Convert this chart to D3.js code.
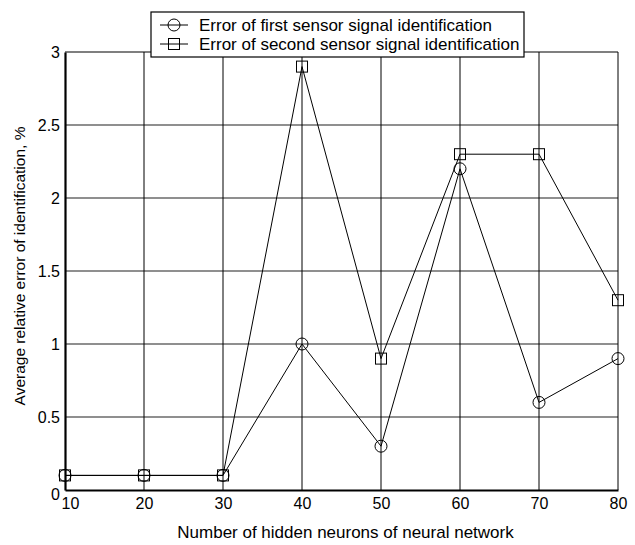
<!DOCTYPE html>
<html>
<head>
<meta charset="utf-8">
<script src="https://cdn.jsdelivr.net/npm/d3@7"></script>
<style>
  body { margin: 0; background: #fff; }
  svg { display: block; font-family: "Liberation Sans", Arial, sans-serif; }
</style>
</head>
<body>
<svg id="chart" width="635" height="545"></svg>
<script>
// data
const neurons = [10, 20, 30, 40, 50, 60, 70, 80];
const firstSensor = [0.1, 0.1, 0.1, 1.0, 0.3, 2.2, 0.6, 0.9];
const secondSensor = [0.1, 0.1, 0.1, 2.9, 0.9, 2.3, 2.3, 1.3];
const yTicks = [0, 0.5, 1, 1.5, 2, 2.5, 3];
const seriesNames = [
    "Error of first sensor signal identification",
    "Error of second sensor signal identification"
];

const svg = d3.select("#chart");
const margin = { left: 65, right: 17, top: 52, bottom: 55 };
const width = 635, height = 545;

const x = d3.scaleLinear().domain([10, 80]).range([margin.left, width - margin.right]);
const y = d3.scaleLinear().domain([0, 3]).range([height - margin.bottom, margin.top]);

const plot = svg.append("g");

// horizontal grid (grey)
plot.selectAll("line.hgrid")
    .data(yTicks.filter(d => d > 0 && d < 3))
    .enter().append("line")
    .attr("x1", x(10)).attr("x2", x(80))
    .attr("y1", d => y(d)).attr("y2", d => y(d))
    .attr("stroke", "#6a6a6a").attr("stroke-width", 1.5);

// vertical grid (black)
plot.selectAll("line.vgrid")
    .data(neurons.filter(d => d > 10))
    .enter().append("line")
    .attr("y1", y(0)).attr("y2", y(3))
    .attr("x1", d => x(d)).attr("x2", d => x(d))
    .attr("stroke", "#000").attr("stroke-width", 1);

// top border
plot.append("line")
    .attr("x1", x(10)).attr("x2", x(80))
    .attr("y1", y(3)).attr("y2", y(3))
    .attr("stroke", "#000").attr("stroke-width", 1.2);

// axes
const xAxis = d3.axisBottom(x).tickValues(neurons).tickSize(0).tickPadding(8);
const yAxis = d3.axisLeft(y).tickValues(yTicks).tickSize(0).tickPadding(5).tickFormat(d3.format("~g"));

const gx = svg.append("g").attr("transform", `translate(0,${y(0)})`).call(xAxis);
gx.select(".domain").attr("stroke", "#000").attr("stroke-width", 2.2);
gx.selectAll("text").attr("font-size", 16).attr("fill", "#000")
    .attr("font-family", "Liberation Sans, Arial, sans-serif");
gx.select("g.tick text").attr("dx", 5);

const gy = svg.append("g").attr("transform", `translate(${x(10)},0)`).call(yAxis);
gy.select(".domain").attr("stroke", "#000").attr("stroke-width", 2.2);
gy.selectAll("text").attr("font-size", 16).attr("fill", "#000")
    .attr("font-family", "Liberation Sans, Arial, sans-serif");
gy.select("g.tick text").attr("dy", "0.62em");

// lines and markers
const line = d3.line().x(d => x(d[0])).y(d => y(d[1]));
const s1 = neurons.map((n, i) => [n, firstSensor[i]]);
const s2 = neurons.map((n, i) => [n, secondSensor[i]]);

[s1, s2].forEach(s => {
    svg.append("path").datum(s)
        .attr("d", line)
        .attr("fill", "none").attr("stroke", "#000").attr("stroke-width", 1);
});

svg.selectAll("circle.m1").data(s1).enter().append("circle")
    .attr("cx", d => x(d[0])).attr("cy", d => y(d[1])).attr("r", 6)
    .attr("fill", "none").attr("stroke", "#000").attr("stroke-width", 1);

svg.selectAll("rect.m2").data(s2).enter().append("rect")
    .attr("x", d => x(d[0]) - 5.5).attr("y", d => y(d[1]) - 5.5)
    .attr("width", 11).attr("height", 11)
    .attr("fill", "none").attr("stroke", "#000").attr("stroke-width", 1);

// axis titles
svg.append("text")
    .attr("x", (x(10) + x(80)) / 2 + 4).attr("y", 538)
    .attr("text-anchor", "middle").attr("font-size", 17)
    .text("Number of hidden neurons of neural network");

svg.append("text")
    .attr("transform", `translate(25,266) rotate(-90)`)
    .attr("text-anchor", "middle").attr("font-size", 15.5)
    .text("Average relative error of identification, %");

// legend
const legend = svg.append("g").attr("transform", "translate(151,12)");
legend.append("rect")
    .attr("width", 373).attr("height", 45)
    .attr("fill", "#fff").attr("stroke", "#000").attr("stroke-width", 1.2);

seriesNames.forEach((name, i) => {
    const cy = 13 + i * 19;
    legend.append("line")
        .attr("x1", 9).attr("x2", 37).attr("y1", cy).attr("y2", cy)
        .attr("stroke", "#000");
    if (i === 0) {
        legend.append("circle").attr("cx", 23).attr("cy", cy).attr("r", 6)
            .attr("fill", "none").attr("stroke", "#000");
    } else {
        legend.append("rect").attr("x", 17.5).attr("y", cy - 5.5)
            .attr("width", 11).attr("height", 11)
            .attr("fill", "none").attr("stroke", "#000");
    }
    legend.append("text")
        .attr("x", 48).attr("y", cy + 6)
        .attr("font-size", 17)
        .text(name);
});
</script>
</body>
</html>
